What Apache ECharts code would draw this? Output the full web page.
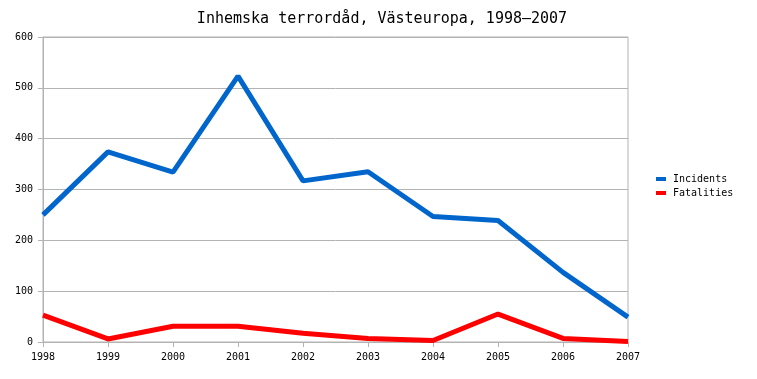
<!DOCTYPE html>
<html><head><meta charset="utf-8">
<script src="https://cdn.jsdelivr.net/npm/echarts@6/dist/echarts.min.js"></script>
<style>html,body{margin:0;padding:0;background:#fff}#c{width:757px;height:379px}</style>
</head><body><div id="c"></div>
<script>
const years = ['1998','1999','2000','2001','2002','2003','2004','2005','2006','2007'];
const incidents = [250, 374, 334, 523, 317, 335, 247, 239, 137, 49];
const fatalities = [53, 6, 31, 31, 17, 7, 3, 55, 7, 1];
const yTicks = [0, 100, 200, 300, 400, 500, 600];

const font = 'DejaVu Sans Mono';
const chart = echarts.init(document.getElementById('c'));
chart.setOption({
  animation: false,
  backgroundColor: '#fff',
  title: {
    text: 'Inhemska terrordåd, Västeuropa, 1998–2007',
    left: 377, top: 7, textAlign: 'center',
    textStyle: {fontFamily: font, fontSize: 15, fontWeight: 'normal', color: '#000'}
  },
  legend: {
    orient: 'vertical', left: 656, top: 173, padding: 0,
    itemWidth: 10, itemHeight: 4, itemGap: 2,
    icon: 'rect',
    textStyle: {fontFamily: font, fontSize: 10, lineHeight: 12, color: '#000', padding: [0,0,0,2]},
    data: ['Incidents', 'Fatalities']
  },
  grid: {left: 43, right: 129, top: 37, bottom: 37, show: true, borderColor: '#b3b3b3', borderWidth: 1},
  xAxis: {
    type: 'category', data: years, boundaryGap: false,
    axisLine: {lineStyle: {color: '#b3b3b3'}},
    axisTick: {show: true, length: 5, lineStyle: {color: '#b3b3b3'}},
    axisLabel: {fontFamily: font, fontSize: 10, color: '#000', margin: 10, showMinLabel: true, showMaxLabel: true, interval: 0},
    splitLine: {show: false}
  },
  yAxis: {
    type: 'value', min: 0, max: 600, interval: 100,
    axisLine: {show: true, lineStyle: {color: '#b3b3b3'}},
    axisTick: {show: true, length: 5, lineStyle: {color: '#b3b3b3'}},
    axisLabel: {fontFamily: font, fontSize: 10, color: '#000', margin: 10,
      formatter: v => yTicks.includes(v) ? String(v) : ''},
    splitLine: {show: true, lineStyle: {color: '#b3b3b3'}}
  },
  series: [
    {name: 'Incidents', type: 'line', data: incidents, showSymbol: false, symbol: 'none',
      lineStyle: {color: '#0066cc', width: 5}, itemStyle: {color: '#0066cc'}},
    {name: 'Fatalities', type: 'line', data: fatalities, showSymbol: false, symbol: 'none',
      lineStyle: {color: '#ff0000', width: 5}, itemStyle: {color: '#ff0000'}}
  ]
});
</script></body></html>
